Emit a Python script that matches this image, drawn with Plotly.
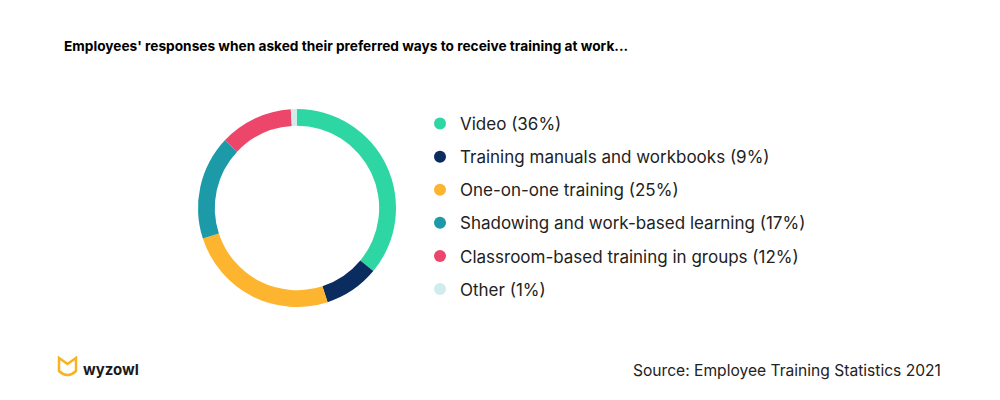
import plotly.graph_objects as go

categories = ["Video", "Training manuals and workbooks", "One-on-one training",
              "Shadowing and work-based learning", "Classroom-based training in groups", "Other"]
values = [36, 9, 25, 17, 12, 1]
colors = ["#2DD6A2", "#0B2C5E", "#FDB52F", "#1C9AA8", "#EC476B", "#D0ECEC"]
title_text = "Employees' responses when asked their preferred ways to receive training at work..."
source_text = "Source: Employee Training Statistics 2021"

fig = go.Figure()
fig.add_trace(go.Pie(
    labels=categories, values=values, sort=False, direction="clockwise", rotation=0,
    hole=0.83, marker=dict(colors=colors, line=dict(width=0)),
    textinfo="none", hoverinfo="label+percent", showlegend=False,
    domain=dict(x=[0.198, 0.396], y=[0.2325, 0.7275]),
))
for i, (c, v, col) in enumerate(zip(categories, values, colors)):
    fig.add_trace(go.Scatter(
        x=[None], y=[None], mode="markers", name=f"{c} ({v}%)",
        marker=dict(symbol="circle", size=14, color=col),
        legendgroup=f"g{i}", showlegend=True,
    ))

fig.update_layout(
    width=1000, height=400, margin=dict(l=0, r=0, t=0, b=0),
    paper_bgcolor="white", plot_bgcolor="white",
    xaxis=dict(visible=False), yaxis=dict(visible=False),
    font=dict(family="Inter", color="#222222"),
    legend=dict(x=0.420, y=1 - 106 / 400, xanchor="left", yanchor="top",
                font=dict(size=17, family="Inter", color="#222222"),
                tracegroupgap=8, itemsizing="constant", bgcolor="rgba(0,0,0,0)"),
    annotations=[
        dict(text=f"<b>{title_text}</b>", x=62 / 1000, y=1 - 46 / 400, xref="paper", yref="paper",
             xanchor="left", yanchor="middle", showarrow=False,
             font=dict(size=13.7, family="Inter", color="#000000")),
        dict(text=source_text, x=943 / 1000, y=1 - 370 / 400, xref="paper", yref="paper",
             xanchor="right", yanchor="middle", showarrow=False,
             font=dict(size=15.6, family="Inter", color="#222222")),
        dict(text="<b>wyzowl</b>", x=81 / 1000, y=1 - 369 / 400, xref="paper", yref="paper",
             xanchor="left", yanchor="middle", showarrow=False,
             font=dict(size=15, family="Inter", color="#1a1a1a")),
    ],
    shapes=[
        dict(type="path", xref="paper", yref="paper",
             path="M 0.059 0.105 L 0.059 0.0725 Q 0.0675 0.0525 0.076 0.0725 L 0.076 0.105 L 0.0675 0.09 Z",
             line=dict(color="#F9B322", width=2.5), fillcolor="rgba(0,0,0,0)"),
    ],
)
fig.write_html("out.html", config={"displayModeBar": False},
               post_script="document.body.style.margin='0';")
